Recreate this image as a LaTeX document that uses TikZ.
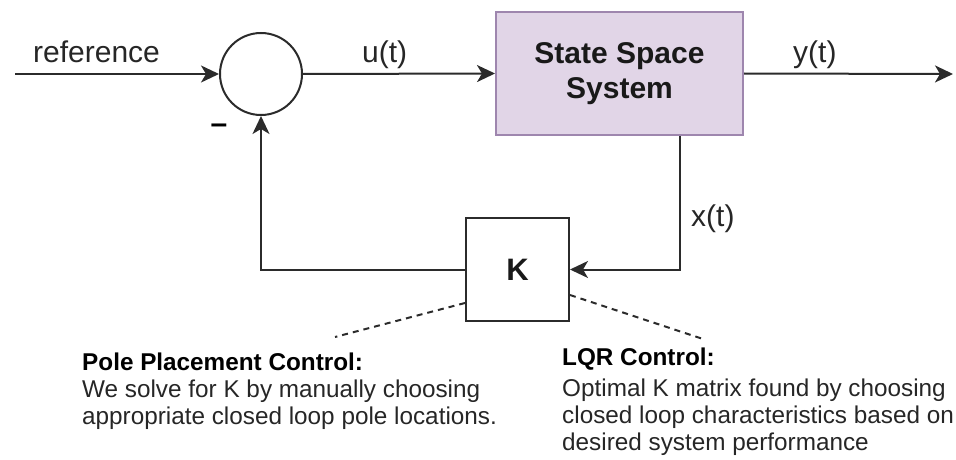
\documentclass[tikz,border=0pt]{standalone}
\usepackage{fontspec}
\setmainfont{Liberation Sans}
\usetikzlibrary{arrows.meta,calc}
\definecolor{linec}{HTML}{2B2B2B}
\definecolor{txtc}{HTML}{262626}
\definecolor{sysfill}{HTML}{E1D5E7}
\definecolor{sysdraw}{HTML}{9E86AE}
\tikzset{
  conn/.style={draw=linec, line width=2pt, -{Stealth[length=18pt,width=17pt,inset=5pt]}},
  plainline/.style={draw=linec, line width=2pt},
  dashline/.style={draw=linec, line width=2pt, dash pattern=on 6pt off 5pt},
  lbl/.style={inner sep=0pt, text=txtc, font=\fontsize{30}{35}\selectfont},
  note/.style={inner sep=0pt, text=txtc, align=left, font=\fontsize{24.3}{27}\selectfont},
  sumnode/.style={circle, draw=linec, line width=2pt, minimum size=82pt, inner sep=0pt},
  sysbox/.style={rectangle, draw=sysdraw, fill=sysfill, line width=2pt, minimum width=247pt, minimum height=123pt, align=center, text=black!90, font=\fontsize{30}{35}\selectfont\bfseries},
  kbox/.style={rectangle, draw=linec, line width=2pt, minimum width=103pt, minimum height=103pt, text=black!90, font=\fontsize{31}{35}\selectfont\bfseries}
}
\begin{document}
\begin{tikzpicture}[x=1pt,y=-1pt]
\useasboundingbox (0,0) rectangle (956,460);
% nodes
\node[sumnode] (sum) at (261,74) {};
\node[sysbox] (sys) at (619.5,73.5) {State Space\\System};
\node[kbox] (K) at (517.5,269.5) {K};
\coordinate (refin) at (15,74);
\coordinate (yout) at (953,74);
\coordinate (fb) at (680,269.5);
\coordinate (dl) at (335,337);
\coordinate (dr) at (703,339);
% labels
\node[lbl, anchor=base west] (reflbl) at (33,63) {reference};
\node[lbl, anchor=base west] (ulbl) at (362,63) {u(t)};
\node[lbl, anchor=base west] (ylbl) at (793,63) {y(t)};
\node[lbl, anchor=base west] (xlbl) at (691,226) {x(t)};
\node[inner sep=0pt, text=black, font=\fontsize{30}{35}\selectfont\bfseries] (minus) at (219,129) {–};
% connectors
\draw[conn] (refin) -- (sum.west);
\draw[conn] (sum.east) -- (sys.west);
\draw[conn] (sys.east) -- (yout);
\draw[conn] (sys.south -| fb) -- (fb) -- (K.east);
\draw[conn] (K.west) -- (sum.south |- K.west) -- (sum.south);
% dashed callouts
\draw[dashline] ($(K.south west)+(0,-19)$) -- (dl);
\draw[dashline] ($(K.south east)+(0,-27)$) -- (dr);
% notes (base anchor = baseline of last line)
\node[note, anchor=base west] (pole) at (82,424) {\textbf{\color{black}Pole Placement Control:}\\We solve for K by manually choosing\\appropriate closed loop pole locations.};
\node[note, anchor=base west] (lqr) at (562,450) {\textbf{\color{black}LQR Control:}\\[4pt]Optimal K matrix found by choosing\\closed loop characteristics based on\\desired system performance};
\end{tikzpicture}
\end{document}
